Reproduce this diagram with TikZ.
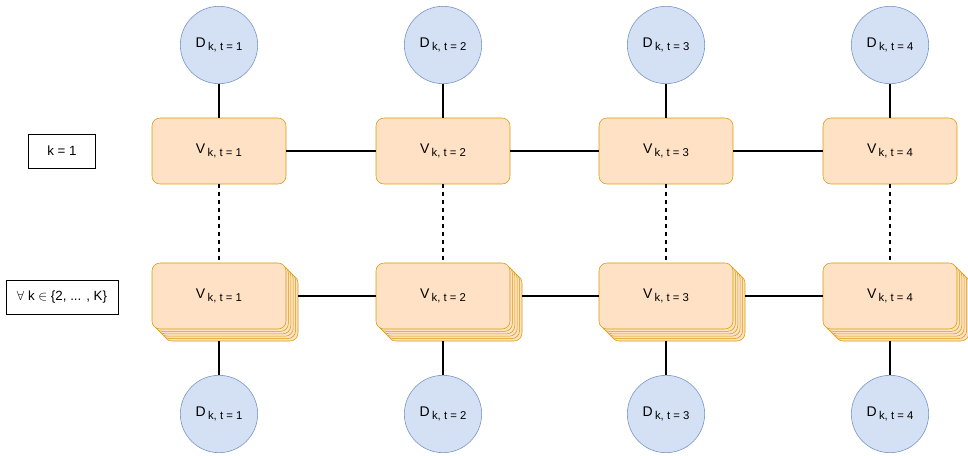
\documentclass[tikz,border=0pt]{standalone}
\usepackage{fontspec}
\setmainfont{Liberation Sans}
\usetikzlibrary{positioning}

\definecolor{dfill}{HTML}{D4E1F5}
\definecolor{dline}{HTML}{6C8EBF}
\definecolor{vfill}{HTML}{FFE2C6}
\definecolor{vline}{HTML}{D79B00}

% label with lowered index
\newcommand{\idx}[2]{#1\,{\fontsize{8.5}{10}\selectfont\raisebox{-0.6ex}{k, t = #2}}}

\tikzset{
  dnode/.style={circle,draw=dline,fill=dfill,minimum size=58pt,inner sep=0pt,
    font=\fontsize{10.5}{12}\selectfont},
  vnode/.style={rectangle,rounded corners=6pt,draw=vline,fill=vfill,
    minimum width=100.5pt,minimum height=49.5pt,inner sep=0pt,
    font=\fontsize{10.5}{12}\selectfont},
  tagbox/.style={rectangle,draw=black,minimum height=25.5pt,inner sep=0pt,
    font=\fontsize{10}{12}\selectfont},
  link/.style={draw=black,line width=0.9pt},
}

\begin{document}
\begin{tikzpicture}[x=0.75pt,y=-0.75pt]
\useasboundingbox (0,0) rectangle (968,456);

% row labels
\node[tagbox,minimum width=50pt] (tagone) at (62,151) {k = 1};
\node[tagbox,minimum width=84pt] (tagall) at (62,297) {$\forall$ k $\in$ \{2, ... , K\}};

\foreach \t/\x in {1/219,2/443,3/666,4/890}{
  % stacked copies behind the lower box
  \foreach \s in {5,4,3,2,1}
    \node[vnode] (s\t\s) at (\x+2.4*\s,296+2.4*\s) {};
  \node[vnode] (w\t) at (\x,296) {\idx{V}{\t}};
  \node[vnode] (v\t) at (\x,151) {\idx{V}{\t}};
  \node[dnode] (dt\t) at (\x,45) {\idx{D}{\t}};
  \node[dnode] (db\t) at (\x,414) {\idx{D}{\t}};
  \draw[link] (dt\t) -- (v\t);
  \draw[link,dash pattern=on 3pt off 3pt] (v\t) -- (w\t);
  \draw[link] (s\t5.south -| w\t) -- (db\t);
}

\foreach \a/\b in {1/2,2/3,3/4}{
  \draw[link] (v\a) -- (v\b);
  \draw[link] (w\a.east -| s\a5.east) -- (w\b);
}
\end{tikzpicture}
\end{document}
